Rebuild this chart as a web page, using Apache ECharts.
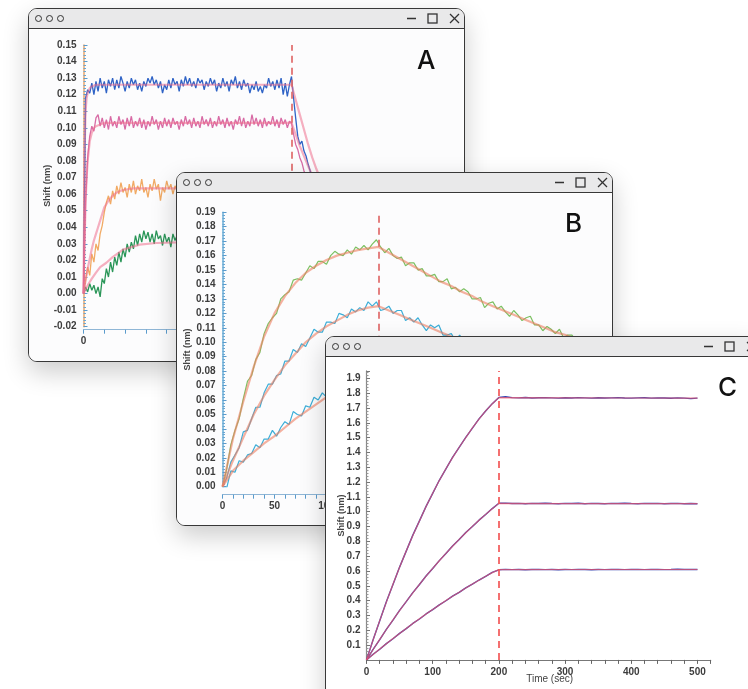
<!DOCTYPE html>
<html>
<head>
<meta charset="utf-8">
<title>Binding kinetics</title>
<script src="https://cdn.jsdelivr.net/npm/echarts/dist/echarts.min.js"></script>
<style>
  body { margin: 0; width: 748px; height: 689px; overflow: hidden; background: #fff; position: relative; font-family: Inter, "Liberation Sans", sans-serif; }
  .win { position: absolute; width: 437px; height: 354px; box-sizing: border-box; border: 1.5px solid #383838; border-radius: 9px; background: #fff; box-shadow: 0 10px 26px rgba(0,0,0,0.2); overflow: hidden; }
  .bar { position: relative; height: 19px; background: #e9e9ea; border-bottom: 1.5px solid #383838; }
  .dot { position: absolute; top: 5.5px; width: 5.6px; height: 5.6px; border: 1.3px solid #333; border-radius: 50%; }
  .icons { position: absolute; right: 0; top: 0; }
  .chart { position: absolute; left: 0; top: 20.5px; width: 434px; height: 331px; }
</style>
</head>
<body>

<div class="win" id="winA" style="left:28px; top:8px; z-index:1;">
  <div class="bar">
    <span class="dot" style="left:5.5px"></span><span class="dot" style="left:16.7px"></span><span class="dot" style="left:27.7px"></span>
    <svg class="icons" width="70" height="19"><g stroke="#333" stroke-width="1.3" fill="none"><line x1="13" y1="9.5" x2="22" y2="9.5"/><rect x="34" y="5" width="9" height="9"/><line x1="56" y1="5" x2="65" y2="14"/><line x1="65" y1="5" x2="56" y2="14"/></g></svg>
  </div>
  <div class="chart" id="chartA"></div>
</div>

<div class="win" id="winB" style="left:176px; top:172px; z-index:2;">
  <div class="bar">
    <span class="dot" style="left:5.5px"></span><span class="dot" style="left:16.7px"></span><span class="dot" style="left:27.7px"></span>
    <svg class="icons" width="70" height="19"><g stroke="#333" stroke-width="1.3" fill="none"><line x1="13" y1="9.5" x2="22" y2="9.5"/><rect x="34" y="5" width="9" height="9"/><line x1="56" y1="5" x2="65" y2="14"/><line x1="65" y1="5" x2="56" y2="14"/></g></svg>
  </div>
  <div class="chart" id="chartB"></div>
</div>

<div class="win" id="winC" style="left:325px; top:336px; height:400px; z-index:3;">
  <div class="bar">
    <span class="dot" style="left:5.5px"></span><span class="dot" style="left:16.7px"></span><span class="dot" style="left:27.7px"></span>
    <svg class="icons" width="70" height="19"><g stroke="#333" stroke-width="1.3" fill="none"><line x1="13" y1="9.5" x2="22" y2="9.5"/><rect x="34" y="5" width="9" height="9"/><line x1="56" y1="5" x2="65" y2="14"/><line x1="65" y1="5" x2="56" y2="14"/></g></svg>
  </div>
  <div class="chart" id="chartC" style="height:377px"></div>
</div>

<script>
// ---------- panel A (fast on / fast off), sampled every 1 s ----------
var aDashAt = 100;
var aBlue = [0.000,0.118,0.123,0.121,0.127,0.120,0.128,0.122,0.130,0.124,
  0.128,0.121,0.129,0.125,0.130,0.123,0.129,0.124,0.131,0.127,
  0.122,0.128,0.124,0.130,0.126,0.129,0.123,0.127,0.122,0.128,
  0.125,0.130,0.127,0.131,0.126,0.129,0.124,0.128,0.121,0.126,
  0.123,0.129,0.124,0.130,0.126,0.128,0.122,0.129,0.125,0.131,
  0.126,0.130,0.125,0.128,0.124,0.130,0.127,0.129,0.123,0.128,
  0.125,0.130,0.126,0.129,0.122,0.127,0.124,0.130,0.125,0.128,
  0.122,0.129,0.126,0.131,0.124,0.128,0.123,0.129,0.125,0.127,
  0.121,0.126,0.123,0.128,0.122,0.125,0.121,0.126,0.124,0.130,
  0.125,0.128,0.123,0.129,0.124,0.130,0.120,0.127,0.119,0.126,
  0.131,0.118,0.106,0.095,0.090,0.092,0.086,0.083,0.078,0.074,
  0.070,0.067,0.064];
var aPink = [0.000,0.055,0.082,0.095,0.101,0.098,0.106,0.108,0.101,0.106,
  0.100,0.105,0.099,0.107,0.101,0.104,0.100,0.107,0.102,0.105,
  0.099,0.106,0.101,0.107,0.100,0.104,0.101,0.106,0.100,0.105,
  0.099,0.104,0.101,0.107,0.102,0.105,0.099,0.104,0.100,0.106,
  0.101,0.105,0.100,0.106,0.102,0.104,0.099,0.105,0.101,0.107,
  0.102,0.105,0.100,0.106,0.101,0.104,0.100,0.107,0.102,0.105,
  0.101,0.106,0.100,0.104,0.101,0.107,0.102,0.105,0.100,0.106,
  0.101,0.104,0.099,0.105,0.102,0.107,0.101,0.106,0.100,0.104,
  0.101,0.108,0.102,0.106,0.101,0.105,0.100,0.106,0.101,0.104,
  0.102,0.107,0.101,0.105,0.100,0.106,0.102,0.105,0.100,0.104,
  0.103,0.096,0.090,0.087,0.082,0.079,0.074,0.071,0.067,0.063,
  0.060,0.056,0.053];
var aOrange = [0.000,0.008,0.016,0.011,0.024,0.019,0.030,0.026,0.036,0.041,
  0.049,0.055,0.059,0.054,0.062,0.057,0.065,0.060,0.067,0.061,
  0.064,0.058,0.066,0.061,0.068,0.060,0.065,0.062,0.069,0.061,
  0.064,0.058,0.066,0.062,0.069,0.063,0.066,0.056,0.064,0.061,
  0.068,0.063,0.066,0.060,0.065,0.062,0.067,0.061,0.065,0.060,0.064];
var aGreen = [0.000,0.004,0.001,0.006,0.002,0.005,0.000,0.004,-0.002,0.009,
  0.006,0.015,0.010,0.019,0.013,0.022,0.017,0.025,0.019,0.027,
  0.022,0.030,0.025,0.031,0.027,0.035,0.029,0.036,0.031,0.038,
  0.033,0.037,0.031,0.036,0.030,0.038,0.033,0.035,0.029,0.036,
  0.031,0.034,0.028,0.036,0.032,0.035,0.030,0.034,0.031,0.036,0.032];
// fitted curves (time, value)
var aBlueFitT = [0,0.5,1,1.5,2,3,4,6,8,100,102,104,106,108,110,112,115,120];
var aBlueFit  = [0,0.085,0.110,0.118,0.121,0.124,0.125,0.126,0.126,0.126,0.117,0.108,0.099,0.090,0.082,0.075,0.066,0.055];
var aPinkFitT = [0,0.5,1,1.5,2,3,4,5,6,8,10,12,100,102,104,106,108,110,112,115,120];
var aPinkFit  = [0,0.030,0.055,0.070,0.080,0.092,0.097,0.100,0.101,0.102,0.103,0.103,0.103,0.096,0.089,0.083,0.077,0.071,0.066,0.059,0.050];
var aOrangeFitT = [0,1,2,3,4,5,6,7,8,9,10,12,14,16,19,24,30,50];
var aOrangeFit  = [0,0.008,0.015,0.021,0.027,0.032,0.036,0.040,0.044,0.048,0.052,0.056,0.059,0.061,0.0625,0.0635,0.0635,0.0635];
var aGreenFitT = [0,2,4,6,8,11,14,19,23,27,35,50];
var aGreenFit  = [0,0.005,0.009,0.0126,0.016,0.0186,0.022,0.0265,0.028,0.0295,0.0305,0.031];

// ---------- panel B (slow on / slow off), sampled every 4 s ----------
var bDashAt = 150;
var bGreen = [0.000,0.012,0.029,0.039,0.047,0.061,0.073,0.077,0.088,0.093,
  0.106,0.113,0.117,0.120,0.130,0.133,0.135,0.143,0.144,0.143,
  0.148,0.153,0.151,0.156,0.156,0.154,0.160,0.163,0.161,0.160,
  0.164,0.161,0.166,0.164,0.167,0.164,0.168,0.171,
  0.166,0.162,0.165,0.160,0.158,0.159,0.153,0.155,0.155,0.150,
  0.151,0.146,0.146,0.147,0.142,0.142,0.144,0.137,0.138,0.135,
  0.137,0.135,0.130,0.130,0.131,0.124,0.127,0.128,0.123,0.125,
  0.121,0.118,0.122,0.119,0.115,0.117,0.118,0.112,0.112,0.108,
  0.111,0.109,0.106,0.109,0.103,0.105,0.105,0.101,0.104,0.098,
  0.099,0.100,0.096,0.097,0.093];
var bCyanHi = [0.000,0.006,0.017,0.022,0.027,0.038,0.039,0.047,0.055,0.055,
  0.065,0.071,0.071,0.077,0.078,0.087,0.087,0.095,0.093,0.099,
  0.097,0.103,0.109,0.107,0.107,0.114,0.114,0.113,0.120,0.119,
  0.117,0.123,0.121,0.124,0.122,0.128,0.125,0.128,0.122,0.123,
  0.125,0.120,0.122,0.122,0.115,0.117,0.114,0.117,0.112,0.108,
  0.112,0.110,0.112,0.105,0.105,0.106,0.101,0.105,0.101,0.098];
var bCyanLo = [0.000,-0.001,0.011,0.010,0.018,0.017,0.022,0.023,0.029,0.027,
  0.033,0.033,0.039,0.035,0.041,0.045,0.043,0.052,0.050,0.049,
  0.056,0.055,0.062,0.060,0.065,0.062,0.067,0.064,0.071,0.069,
  0.072,0.070,0.075,0.074,0.077,0.074,0.080,0.079];
var bFitT = [0,10,20,30,40,50,60,70,80,90,100,110,120,130,140,150,
  160,170,180,190,200,210,220,230,240,250,260,270,280,290,300,310,320,330,340,350,360,370];
var bGreenFit = [0,0.033,0.059,0.083,0.104,0.120,0.132,0.141,0.148,0.153,0.157,0.160,0.162,0.1638,0.165,0.166,
  0.162,0.158,0.154,0.150,0.146,0.142,0.139,0.135,0.132,0.128,0.125,0.122,0.119,0.116,0.113,0.110,0.107,0.105,0.102,0.100,0.097,0.095];
var bCyanHiFit = [0,0.018,0.034,0.050,0.063,0.074,0.084,0.092,0.100,0.106,0.111,0.115,0.119,0.122,0.124,0.125,
  0.122,0.119,0.116,0.113,0.110,0.107,0.104,0.101,0.098];
var bCyanLoFit = [0,0.011,0.018,0.024,0.030,0.035,0.041,0.047,0.052,0.057,0.062,0.066,0.070,0.073,0.076,0.079];

// ---------- panel C (slow on / no off), sampled every 10 s ----------
var cDashAt = 200;
var cHi = [0.000,0.136,0.264,0.392,0.509,0.626,0.734,0.842,0.938,1.036,
  1.124,1.212,1.289,1.366,1.434,1.502,1.564,1.626,1.679,1.729,1.771,
  1.776,1.770,1.768,1.771,1.767,1.769,1.770,1.768,1.766,1.769,
  1.767,1.770,1.768,1.766,1.769,1.767,1.768,1.770,1.767,1.766,
  1.768,1.769,1.766,1.768,1.767,1.765,1.768,1.766,1.763,1.766];
var cMid = [0.000,0.071,0.137,0.206,0.269,0.334,0.393,0.454,0.509,0.566,
  0.617,0.670,0.718,0.768,0.812,0.859,0.900,0.943,0.981,1.021,1.057,
  1.058,1.055,1.056,1.054,1.056,1.055,1.057,1.055,1.054,1.056,
  1.055,1.057,1.054,1.056,1.055,1.054,1.056,1.055,1.057,1.055,
  1.054,1.056,1.055,1.056,1.054,1.055,1.056,1.054,1.055,1.054];
var cLo = [0.000,0.038,0.072,0.110,0.143,0.179,0.211,0.246,0.276,0.310,
  0.339,0.371,0.399,0.430,0.456,0.486,0.511,0.539,0.563,0.590,0.608,
  0.611,0.609,0.610,0.608,0.610,0.611,0.609,0.610,0.608,0.610,
  0.609,0.611,0.610,0.608,0.610,0.609,0.611,0.610,0.609,0.610,
  0.611,0.609,0.610,0.611,0.609,0.610,0.612,0.610,0.611,0.610];
var cFitT = [0,10,20,30,40,50,60,70,80,90,100,110,120,130,140,150,160,170,180,190,200,300,400,500];
var cHiFit  = [0,0.135,0.265,0.390,0.510,0.625,0.735,0.840,0.938,1.035,1.125,1.210,1.290,1.365,1.435,1.500,1.565,1.625,1.680,1.728,1.770,1.768,1.767,1.766];
var cMidFit = [0,0.070,0.138,0.205,0.270,0.333,0.394,0.453,0.510,0.565,0.618,0.669,0.719,0.767,0.813,0.858,0.901,0.942,0.982,1.020,1.056,1.055,1.055,1.055];
var cLoFit  = [0,0.037,0.073,0.109,0.144,0.178,0.212,0.245,0.277,0.309,0.340,0.370,0.400,0.429,0.457,0.485,0.512,0.538,0.564,0.589,0.609,0.610,0.610,0.610];

function steps(start, step, n) {
  var out = [];
  for (var i = 0; i < n; i++) out.push(start + i * step);
  return out;
}
function pairs(times, values) {
  return values.map(function (v, i) { return [times[i], v]; });
}
function trace(times, values, color, width, opacity) {
  return {
    type: 'line', showSymbol: false, silent: true, animation: false,
    data: pairs(times, values),
    lineStyle: { color: color, width: width, opacity: opacity }
  };
}
function dashMark(x, color) {
  return {
    silent: true, symbol: 'none', animation: false,
    label: { show: false },
    lineStyle: { color: color, type: [7, 5], width: 2, opacity: 0.85 },
    data: [{ xAxis: x }]
  };
}
var labelFont = { fontFamily: 'Liberation Sans, Arial, sans-serif', fontSize: 10, fontWeight: 'bold', color: '#3c3c3c' };
var nameFont = { fontFamily: 'Liberation Sans, Arial', fontSize: 9, fontWeight: 'bold', color: '#444' };
function letter(ch, x, y) {
  return { type: 'text', left: x, top: y, style: { text: ch, font: '500 26px Inter, sans-serif', fill: '#111' } };
}

// ---------- chart A ----------
var chartA = echarts.init(document.getElementById('chartA'));
var aTime = steps(0, 1, aBlue.length);
var aBlueSeries = trace(aTime, aBlue, '#2f63c6', 1.3, 1);
aBlueSeries.markLine = dashMark(aDashAt, '#df6a6a');
chartA.setOption({
  backgroundColor: '#fcfcfd',
  graphic: [letter('A', 388, 18)],
  grid: { left: 54.5, top: 15, width: 353.6, height: 281.7, outerBoundsMode: 'none' },
  xAxis: {
    type: 'value', min: 0, max: 170, interval: 10, offset: 3,
    axisLine: { onZero: false, lineStyle: { color: '#8fb6d6', width: 1.2 } },
    axisTick: { length: 4, lineStyle: { color: '#5a9bcc' } },
    axisLabel: Object.assign({ margin: 7, formatter: function (v) { return v % 50 === 0 ? String(v) : ''; } }, labelFont),
    splitLine: { show: false }
  },
  yAxis: {
    type: 'value', min: -0.02, max: 0.15, interval: 0.01,
    name: 'Shift (nm)', nameLocation: 'middle', nameGap: 31.5, nameMoveOverlap: false, nameTextStyle: nameFont,
    axisLine: { show: true, lineStyle: { color: '#e7a66c', width: 1.5 } },
    axisTick: { inside: true, length: 4, lineStyle: { color: '#5a9bcc' } },
    minorTick: { show: true, splitNumber: 5, length: 2.5, lineStyle: { color: '#6aa6d2' } },
    axisLabel: Object.assign({ margin: 7, formatter: function (v) { return v.toFixed(2); } }, labelFont),
    splitLine: { show: false }
  },
  series: [
    aBlueSeries,
    trace(aTime, aPink, '#d45b9b', 1.3, 0.9),
    trace(steps(0, 1, aOrange.length), aOrange, '#f0a55c', 1.3, 0.95),
    trace(steps(0, 1, aGreen.length), aGreen, '#2a9658', 1.3, 1),
    trace(aBlueFitT, aBlueFit, '#ef6f8e', 2.2, 0.55),
    trace(aPinkFitT, aPinkFit, '#ef6f8e', 2.2, 0.55),
    trace(aOrangeFitT, aOrangeFit, '#ef6f8e', 2.2, 0.55),
    trace(aGreenFitT, aGreenFit, '#ef6f8e', 2.2, 0.55)
  ]
});

// ---------- chart B ----------
var chartB = echarts.init(document.getElementById('chartB'));
var bTime = steps(0, 4, bGreen.length);
var bGreenSeries = trace(bTime, bGreen, '#7cc062', 1.2, 1);
bGreenSeries.markLine = dashMark(bDashAt, '#df6a6a');
chartB.setOption({
  backgroundColor: '#fcfcfd',
  graphic: [letter('B', 388, 17)],
  grid: { left: 45.5, top: 18.3, width: 384.8, height: 274.4, outerBoundsMode: 'none' },
  xAxis: {
    type: 'value', min: 0, max: 370, interval: 10, offset: 8,
    axisLine: { onZero: false, lineStyle: { color: '#8fb6d6', width: 1.2 } },
    axisTick: { length: 4, lineStyle: { color: '#5a9bcc' } },
    axisLabel: Object.assign({ margin: 7, formatter: function (v) { return v % 50 === 0 ? String(v) : ''; } }, labelFont),
    splitLine: { show: false }
  },
  yAxis: {
    type: 'value', min: 0, max: 0.19, interval: 0.01,
    name: 'Shift (nm)', nameLocation: 'middle', nameGap: 30.5, nameMoveOverlap: false, nameTextStyle: nameFont,
    axisLine: { show: true, lineStyle: { color: '#6aaed6', width: 1.5 } },
    axisTick: { inside: true, length: 4, lineStyle: { color: '#5a9bcc' } },
    minorTick: { show: true, splitNumber: 5, length: 2.5, lineStyle: { color: '#6aa6d2' } },
    axisLabel: Object.assign({ margin: 7, formatter: function (v) { return v.toFixed(2); } }, labelFont),
    splitLine: { show: false }
  },
  series: [
    bGreenSeries,
    trace(bTime, bCyanHi, '#3caed8', 1.2, 1),
    trace(bTime, bCyanLo, '#3caed8', 1.2, 1),
    trace(bFitT, bGreenFit, '#ee7f62', 2.2, 0.6),
    trace(bFitT, bCyanHiFit, '#ee7f62', 2.2, 0.6),
    trace(bFitT, bCyanLoFit, '#ee7f62', 2.2, 0.6)
  ]
});

// ---------- chart C ----------
var chartC = echarts.init(document.getElementById('chartC'));
var cTime = steps(0, 10, cHi.length);
var cHiSeries = trace(cTime, cHi, '#3543b0', 1.4, 1);
cHiSeries.markLine = dashMark(cDashAt, '#f25757');
chartC.setOption({
  backgroundColor: '#fff',
  graphic: [letter('C', 392, 17)],
  grid: { left: 40.5, top: 12.9, width: 344.2, height: 289, outerBoundsMode: 'none' },
  xAxis: {
    type: 'value', min: 0, max: 520, interval: 20,
    name: 'Time (sec)', nameLocation: 'middle', nameGap: 14, nameMoveOverlap: false,
    nameTextStyle: { fontFamily: 'Liberation Sans, Arial', fontSize: 10, color: '#444', padding: [0, 0, 0, 22] },
    axisLine: { onZero: false, lineStyle: { color: '#777', width: 1.2 } },
    axisTick: { length: 4, lineStyle: { color: '#666' } },
    axisLabel: Object.assign({ margin: 7, formatter: function (v) { return v % 100 === 0 ? String(v) : ''; } }, labelFont),
    splitLine: { show: false }
  },
  yAxis: {
    type: 'value', min: 0, max: 1.95, interval: 0.1,
    name: 'Shift (nm)', nameLocation: 'middle', nameGap: 20.5, nameMoveOverlap: false, nameTextStyle: nameFont,
    axisLine: { show: true, lineStyle: { color: '#888', width: 1.2 } },
    axisTick: { inside: true, length: 3.5, lineStyle: { color: '#777' } },
    minorTick: { show: true, splitNumber: 5, length: 2, lineStyle: { color: '#999' } },
    axisLabel: Object.assign({ margin: 6, formatter: function (v) {
      var k = Math.round(v * 10);
      return (k > 0 && Math.abs(v * 10 - k) < 1e-6) ? (k / 10).toFixed(1) : '';
    } }, labelFont),
    splitLine: { show: false }
  },
  series: [
    cHiSeries,
    trace(cTime, cMid, '#3543b0', 1.4, 1),
    trace(cTime, cLo, '#3543b0', 1.4, 1),
    trace(cFitT, cHiFit, '#f2556a', 1.2, 0.7),
    trace(cFitT, cMidFit, '#f2556a', 1.2, 0.7),
    trace(cFitT, cLoFit, '#f2556a', 1.2, 0.7)
  ]
});
</script>
</body>
</html>
